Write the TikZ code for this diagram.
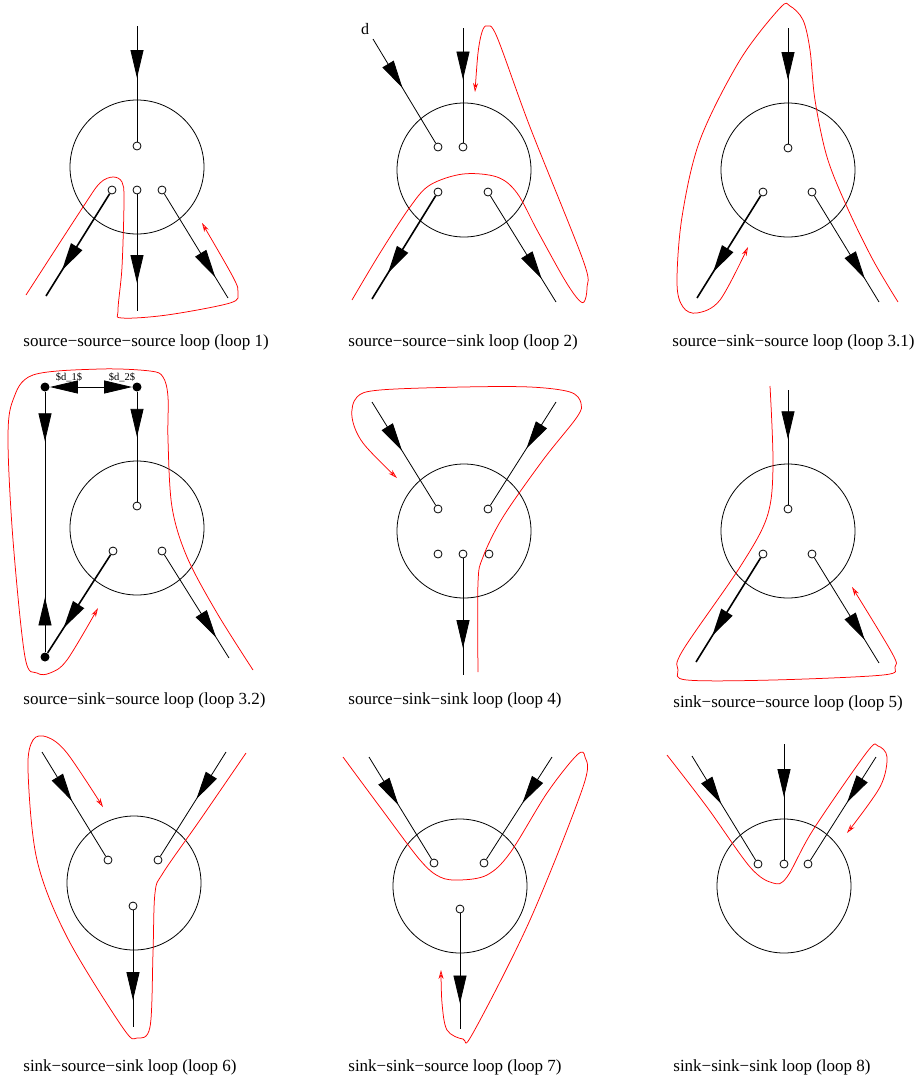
\documentclass[tikz,border=0pt]{standalone}
\usepackage{fontspec}
\setmainfont{Liberation Serif}
\usetikzlibrary{arrows.meta}
\usetikzlibrary{decorations.markings}

\begin{document}
\begin{tikzpicture}[x=1pt,y=-1pt,line width=.8pt,
    >={Triangle[length=28pt,width=13pt]},
    vertex/.style={circle,draw,inner sep=0,minimum size=134pt},
    port/.style={circle,draw,fill=white,inner sep=0,minimum size=8pt},
    blob/.style={circle,fill=black,inner sep=0,minimum size=9pt},
    leg/.style={decoration={markings,mark=at position #1 with {\arrow{>}}},postaction={decorate}},
    heavy/.style={line width=1.6pt},
    route/.style={red,line width=.75pt,-{Stealth[open,length=9pt,width=5pt]}},
    tag/.style={font=\fontsize{16}{18}\selectfont},
    smalltag/.style={font=\fontsize{10.5}{12}\selectfont,inner sep=0},
    looplabel/.style={anchor=west,inner sep=0,font=\fontsize{17}{20}\selectfont}]
\useasboundingbox (0,0) rectangle (915,1077);

% loop 1
\node[vertex] (v1) at (137,167) {};
\node[port] (p1t) at (137,146) {};
\node[port] (p1l) at (112,190) {};
\node[port] (p1m) at (137,190) {};
\node[port] (p1r) at (162,190) {};
\coordinate (e1t) at (137,26);
\coordinate (e1l) at (46,296);
\coordinate (e1m) at (137,311);
\coordinate (e1r) at (228,298);
\draw[leg=.45] (e1t) -- (p1t);
\draw[leg=.75,heavy] (p1l) -- (e1l);
\draw[leg=.76] (p1m) -- (e1m);
\draw[leg=.8] (p1r) -- (e1r);
\draw[route] plot[smooth,tension=.55] coordinates {(26,295) (83,207) (100,183) (113,177) (122,182) (124,200) (122,267) (118,310) (122,318) (167,315) (230,303) (238,293) (233,277) (202,223)};
\node[looplabel] (c1) at (23,342) {source−source−source loop (loop 1)};

% loop 2
\node[vertex] (v2) at (464,170) {};
\node[port] (p2a) at (438,147) {};
\node[port] (p2t) at (463,147) {};
\node[port] (p2l) at (438,192) {};
\node[port] (p2r) at (488,192) {};
\coordinate (e2a) at (373,39);
\coordinate (e2t) at (463,28);
\coordinate (e2l) at (372,299);
\coordinate (e2r) at (556,302);
\node[tag] (dlab) at (365,29) {d};
\draw[leg=.47] (e2a) -- (p2a);
\draw[leg=.45] (e2t) -- (p2t);
\draw[leg=.75,heavy] (p2l) -- (e2l);
\draw[leg=.78] (p2r) -- (e2r);
\draw[route] plot[smooth,tension=.55] coordinates {(352,300) (380,253) (410,207) (430,185) (463,174) (497,177) (517,193) (537,230) (563,277) (577,298) (584,302) (587,287) (583,260) (530,127) (497,37) (487,26) (482,32) (478,53) (475,92)};
\node[looplabel] (c2) at (348,342) {source−source−sink loop (loop 2)};

% loop 3.1
\node[vertex] (v3) at (788,170) {};
\node[port] (p3t) at (788,148) {};
\node[port] (p3l) at (763,192) {};
\node[port] (p3r) at (812,192) {};
\coordinate (e3t) at (788,28);
\coordinate (e3l) at (697,298);
\coordinate (e3r) at (879,302);
\draw[leg=.45] (e3t) -- (p3t);
\draw[leg=.75,heavy] (p3l) -- (e3l);
\draw[leg=.78] (p3r) -- (e3r);
\draw[route] plot[smooth,tension=.55] coordinates {(898,302) (873,260) (847,207) (827,157) (815,100) (810,50) (803,20) (790,6) (780,8) (740,60) (700,140) (682,217) (677,283) (683,307) (697,313) (720,300) (748,247)};
\node[looplabel] (c3) at (672,342) {source−sink−source loop (loop 3.1)};

% loop 3.2
\node[vertex] (v4) at (137,528) {};
\node[port] (q1t) at (137,506) {};
\node[port] (q1l) at (113,551) {};
\node[port] (q1r) at (162,551) {};
\node[blob] (b1) at (45,387) {};
\node[blob] (b2) at (137,387) {};
\node[blob] (b3) at (45,657) {};
\coordinate (f1r) at (229,658);
\node[smalltag] (d1lab) at (69,377) {\$d\_1\$};
\node[smalltag] (d2lab) at (122,377) {\$d\_2\$};
\draw[<->] (b1) -- (b2);
\draw[leg=.41] (b2) -- (q1t);
\draw[decoration={markings,mark=at position .19 with {\arrow{>}},mark=at position .79 with {\arrowreversed{>}}},postaction={decorate}] (b1) -- (b3);
\draw[leg=.75,heavy] (q1l) -- (b3);
\draw[leg=.8] (q1r) -- (f1r);
\draw[route] plot[smooth,tension=.55] coordinates {(253,670) (217,613) (187,557) (172,507) (168,440) (168,397) (163,377) (150,371) (100,369) (33,375) (13,400) (8,440) (13,540) (25,657) (37,673) (50,673) (67,660) (98,608)};
\node[looplabel] (c4) at (23,700) {source−sink−source loop (loop 3.2)};

% loop 4
\node[vertex] (v5) at (464,531) {};
\node[port] (q2a) at (438,509) {};
\node[port] (q2b) at (488,509) {};
\node[port] (q2c) at (438,554) {};
\node[port] (q2d) at (463,554) {};
\node[port] (q2e) at (489,554) {};
\coordinate (f2a) at (372,402);
\coordinate (f2b) at (556,402);
\coordinate (f2d) at (463,675);
\draw[leg=.47] (f2a) -- (q2a);
\draw[leg=.45] (f2b) -- (q2b);
\draw[leg=.77] (q2d) -- (f2d);
\draw[route] plot[smooth,tension=.55] coordinates {(478,672) (478,583) (483,557) (503,517) (543,460) (577,417) (581,403) (570,392) (530,387) (463,387) (380,390) (357,397) (352,417) (363,443) (397,478)};
\node[looplabel] (c5) at (348,700) {source−sink−sink loop (loop 4)};

% loop 5
\node[vertex] (v6) at (788,531) {};
\node[port] (q3t) at (788,509) {};
\node[port] (q3l) at (763,554) {};
\node[port] (q3r) at (812,554) {};
\coordinate (f3t) at (788,390);
\coordinate (f3l) at (696,662);
\coordinate (f3r) at (879,663);
\draw[leg=.43] (f3t) -- (q3t);
\draw[leg=.75,heavy] (q3l) -- (f3l);
\draw[leg=.78] (q3r) -- (f3r);
\draw[route] plot[smooth,tension=.55] coordinates {(770,386) (773,467) (767,517) (740,567) (683,650) (678,670) (687,680) (773,680) (883,675) (895,667) (892,653) (852,587)};
\node[looplabel] (c6) at (673,703) {sink−source−source loop (loop 5)};

% loop 6
\node[vertex] (v7) at (134,883) {};
\node[port] (r1a) at (108,860) {};
\node[port] (r1b) at (158,860) {};
\node[port] (r1c) at (133,906) {};
\coordinate (g1a) at (42,752);
\coordinate (g1b) at (226,752);
\coordinate (g1c) at (133,1027);
\draw[leg=.47] (g1a) -- (r1a);
\draw[leg=.45] (g1b) -- (r1b);
\draw[leg=.77] (r1c) -- (g1c);
\draw[route] plot[smooth,tension=.55] coordinates {(246,753) (200,820) (163,873) (155,893) (153,953) (150,1027) (137,1038) (123,1028) (67,937) (37,860) (28,770) (33,740) (47,737) (67,753) (103,807)};
\node[looplabel] (c7) at (23,1067) {sink−source−sink loop (loop 6)};

% loop 7
\node[vertex] (v8) at (460,886) {};
\node[port] (r2a) at (434,863) {};
\node[port] (r2b) at (484,863) {};
\node[port] (r2c) at (460,909) {};
\coordinate (g2a) at (369,757);
\coordinate (g2b) at (552,757);
\coordinate (g2c) at (460,1029);
\draw[leg=.47] (g2a) -- (r2a);
\draw[leg=.45] (g2b) -- (r2b);
\draw[leg=.78] (r2c) -- (g2c);
\draw[route] plot[smooth,tension=.55] coordinates {(343,757) (380,807) (420,860) (440,877) (460,880) (487,875) (510,853) (547,793) (577,755) (585,757) (583,787) (530,920) (473,1033) (463,1039) (447,1030) (442,1003) (441,970)};
\node[looplabel] (c8) at (348,1067) {sink−sink−source loop (loop 7)};

% loop 8
\node[vertex] (v9) at (784,886) {};
\node[port] (r3a) at (758,864) {};
\node[port] (r3b) at (784,864) {};
\node[port] (r3c) at (808,864) {};
\coordinate (g3a) at (692,756);
\coordinate (g3b) at (784,744);
\coordinate (g3c) at (876,757);
\draw[leg=.46] (g3a) -- (r3a);
\draw[leg=.46] (g3b) -- (r3b);
\draw[leg=.44] (g3c) -- (r3c);
\draw[route] plot[smooth,tension=.55] coordinates {(667,755) (707,807) (750,867) (773,883) (787,877) (813,830) (867,752) (878,746) (887,757) (880,787) (847,833)};
\node[looplabel] (c9) at (673,1067) {sink−sink−sink loop (loop 8)};
\end{tikzpicture}
\end{document}
